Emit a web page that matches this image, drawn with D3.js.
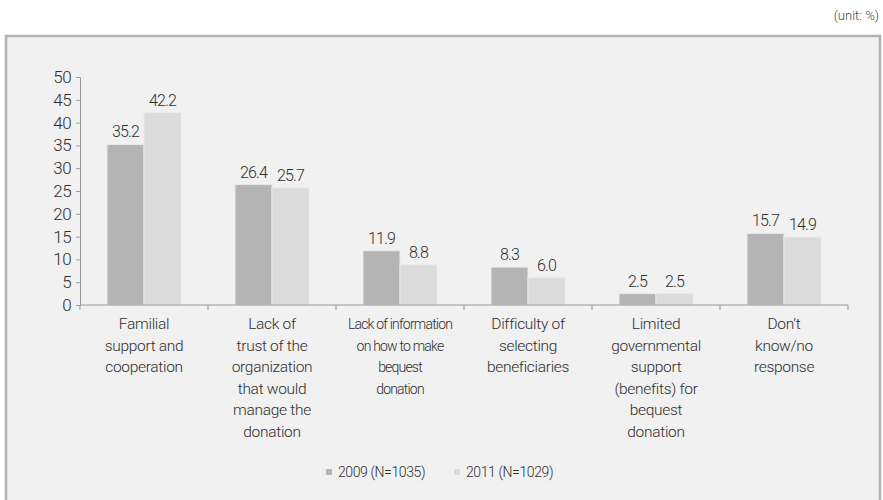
<!DOCTYPE html>
<html>
<head>
<meta charset="utf-8">
<script src="https://cdn.jsdelivr.net/npm/d3@7"></script>
<style>
  body { margin: 0; background: #fff; }
  svg { display: block; font-family: Roboto, "Liberation Sans", sans-serif; font-weight: 300; }
</style>
</head>
<body>
<svg id="chart" width="883" height="500"></svg>
<script>
const categories = [
  "Familial\nsupport and\ncooperation",
  "Lack of\ntrust of the\norganization\nthat would\nmanage the\ndonation",
  "Lack of information\non how to make\nbequest\ndonation",
  "Difficulty of\nselecting\nbeneficiaries",
  "Limited\ngovernmental\nsupport\n(benefits) for\nbequest\ndonation",
  "Don’t\nknow/no\nresponse"
];
const seriesNames = ["2009 (N=1035)", "2011 (N=1029)"];
const values2009 = [35.2, 26.4, 11.9, 8.3, 2.5, 15.7];
const values2011 = [42.2, 25.7, 8.8, 6.0, 2.5, 14.9];
const valueLabels2009 = ["35.2", "26.4", "11.9", "8.3", "2.5", "15.7"];
const valueLabels2011 = ["42.2", "25.7", "8.8", "6.0", "2.5", "14.9"];
const yTicks = [0, 5, 10, 15, 20, 25, 30, 35, 40, 45, 50];
const unitLabel = "(unit: %)";

const svg = d3.select("#chart");
const colors = ["#b4b4b4", "#dbdbdb"];
const textColor = "#2e2e2e";

// frame
svg.append("rect").attr("x", 6).attr("y", 36).attr("width", 874).attr("height", 480)
  .attr("fill", "#f1f1f1").attr("stroke", "#b3b3b3").attr("stroke-width", 2.5);

svg.append("text").attr("x", 879).attr("y", 20).attr("text-anchor", "end")
  .attr("font-size", 13).attr("fill", "#444").text(unitLabel);

const x0 = d3.scaleBand().domain(categories.map((d, i) => i)).range([80, 848]).padding(0);
const groupW = 74;
const x1 = d3.scaleBand().domain([0, 1]).range([0, groupW]);
const y = d3.scaleLinear().domain([0, 50]).range([305, 77]);

// y axis
const yAxis = svg.append("g").attr("transform", "translate(80,0)")
  .call(d3.axisLeft(y).tickValues(yTicks).tickSize(4).tickPadding(5));
yAxis.attr("font-family", null);
yAxis.select(".domain").attr("stroke", "#999");
yAxis.selectAll(".tick line").attr("stroke", "#999");
yAxis.selectAll(".tick text").attr("font-size", 17).attr("fill", textColor)
  .attr("letter-spacing", -0.6);

// bars
const data = categories.map((c, i) => ({ i, vals: [values2009[i], values2011[i]], labs: [valueLabels2009[i], valueLabels2011[i]] }));
const groups = svg.append("g").selectAll("g").data(data).join("g")
  .attr("transform", d => `translate(${x0(d.i) + (x0.bandwidth() - groupW) / 2},0)`);
groups.selectAll("rect").data(d => d.vals.map((v, s) => ({ v, s }))).join("rect")
  .attr("x", d => x1(d.s)).attr("width", x1.bandwidth())
  .attr("y", d => y(d.v)).attr("height", d => y(0) - y(d.v))
  .attr("fill", d => colors[d.s]).attr("stroke", "#e9e9e9").attr("stroke-width", 1);
groups.selectAll("text").data(d => d.labs.map((l, s) => ({ l, s, v: d.vals[s] }))).join("text")
  .attr("x", d => x1(d.s) + x1.bandwidth() / 2).attr("y", d => y(d.v) - 7)
  .attr("text-anchor", "middle").attr("font-size", 16).attr("fill", textColor)
  .attr("letter-spacing", -0.9).text(d => d.l);

// x axis
const xAxis = svg.append("g").attr("transform", "translate(0,305)");
xAxis.append("line").attr("x1", 80).attr("x2", 848).attr("stroke", "#999");
xAxis.selectAll("line.tk").data(categories.map((c, i) => i).concat([categories.length])).join("line")
  .attr("class", "tk")
  .attr("x1", d => d < categories.length ? x0(d) : x0(d - 1) + x0.bandwidth())
  .attr("x2", d => d < categories.length ? x0(d) : x0(d - 1) + x0.bandwidth())
  .attr("y1", 0).attr("y2", 5).attr("stroke", "#999");

const labels = svg.append("g").selectAll("text").data(categories).join("text")
  .attr("text-anchor", "middle").attr("fill", textColor).attr("font-size", 15.5)
  .attr("letter-spacing", -0.3)
  .attr("transform", (d, i) => `translate(${x0(i) + x0.bandwidth() / 2},329)`);
labels.each(function (d) {
  const t = d3.select(this);
  const lines = d.split("\n");
  lines.forEach((ln, k) => {
    t.append("tspan").attr("x", 0).attr("y", k * 21.5).text(ln);
  });
  // compress labels whose longest line would exceed the band
  let maxW = 0;
  t.selectAll("tspan").each(function () { maxW = Math.max(maxW, this.getComputedTextLength()); });
  if (maxW > 112) {
    t.attr("font-size", 14).attr("letter-spacing", -0.8);
  }
});

// legend
const legend = svg.append("g").attr("transform", "translate(326,472)");
const legendX = [0, 128];
seriesNames.forEach((name, s) => {
  const g = legend.append("g").attr("transform", `translate(${legendX[s]},0)`);
  g.append("rect").attr("x", 0).attr("y", -3).attr("width", 6).attr("height", 6).attr("fill", colors[s]);
  g.append("text").attr("x", 12).attr("y", 5).attr("font-size", 14).attr("fill", textColor)
    .attr("letter-spacing", -0.4).text(name);
});
</script>
</body>
</html>
